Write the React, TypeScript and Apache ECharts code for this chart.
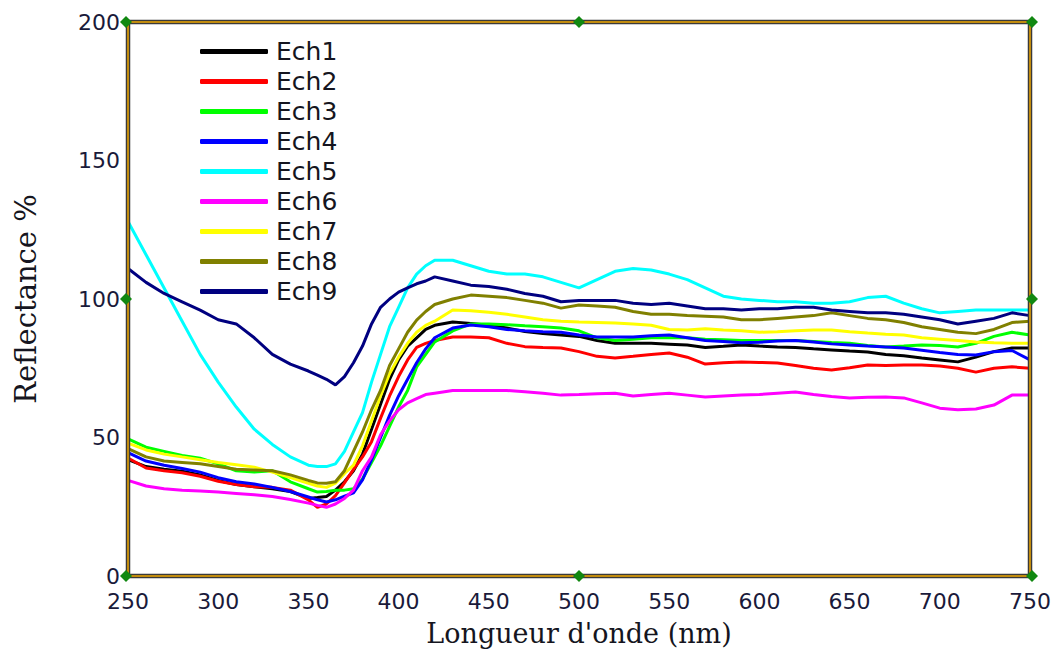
import React, { useEffect, useRef } from "react";
import * as echarts from "echarts";

const wavelengths = [250,260,270,280,290,300,310,320,330,340,350,355,360,365,370,375,380,385,390,395,400,405,410,415,420,430,440,450,460,470,480,490,500,510,520,530,540,550,560,570,580,590,600,610,620,630,640,650,660,670,680,690,700,710,720,730,740,750];

const ech1 = [42,39.5,38.5,37.8,36.5,34.5,33,32.2,31.5,30.5,28,28.3,28.7,31,34,38,44,53,62,71,78,83,86,89,90.5,91.7,91.2,90.5,89.5,88.3,87.5,87,86.5,85,84,84,84,83.7,83.4,82.5,82.9,83.4,83,82.7,82.5,82,81.6,81.2,80.9,80,79.5,78.7,78,77.3,79,81,82.3,82.3];
const ech2 = [42.6,39,38,37.3,36,34.2,33,32.2,32,31,27.5,24.8,26,29,33.6,38.5,43,48.5,57,65,72,78,82.5,84,85,86.3,86.3,86,84,82.8,82.5,82.3,81,79.3,78.7,79.3,80,80.5,79,76.5,77,77.3,77.1,76.9,76,75,74.4,75.2,76.2,76,76.2,76.2,75.8,75,73.6,75,75.5,75];
const ech3 = [49.5,46.5,45,43.5,42.5,40.5,38,37.5,38,34,31.5,30.3,30.5,31,31,31.5,35,41,47,54,61,67,75.5,80,84.5,88.5,91,91,90.7,90.3,90,89.5,88.5,86,85,85.5,86,86,86,85.5,85.3,85,85,85,85,84.7,84.3,84,83.2,82.7,83,83.4,83.2,82.7,84,86.5,88,87];
const ech4 = [44.5,41.5,40,38.8,37.5,35.5,34,33.2,32,30.5,28.5,27.5,26.7,27.5,28.8,30,34.7,42,50,58,65,71,77,82,86,89.5,90.6,90,89,88.5,88.2,88,87,86.3,86.3,86.3,86.7,87,86,85,84.7,84.2,84.4,84.8,85,84.5,83.8,83.4,83,82.7,82.3,81.5,80.7,80,79.8,81,81.4,78];
const ech5 = [128,116,104,92,80,70,61,53,47.5,43,40,39.5,39.5,40.5,45,52,59,70,80,90,97,104,109,112,114,114,112,110,109,109,108,106,104,107,110,111,110.5,109,107,104,101,100,99.5,99,99,98.5,98.5,99,100.5,101,98.5,96.5,95,95.5,96,96,96,96];
const ech6 = [34.5,32.5,31.5,31,30.7,30.3,29.8,29.3,28.7,27.6,26.3,25.5,24.8,26,28,31,38,43,51,56,60,62.5,64,65.5,66,67,67,67,67,66.5,66,65.3,65.5,65.8,66,65,65.5,66,65.3,64.6,65,65.3,65.5,66,66.4,65.5,64.8,64.3,64.5,64.6,64.3,62.5,60.6,60,60.3,61.7,65.3,65.3];
const ech7 = [48,45.5,44,43,42,41,40.2,39.3,37.5,35.5,33.5,32.5,32,33.5,37,40,47,56,65,73,79,84,88,90.5,92,96,95.8,95.2,94.5,93.5,92.5,92,91.7,91.5,91.3,91,90.5,89,88.8,89.3,88.8,88.5,88,88.2,88.5,88.8,88.8,88.2,87.7,87.3,87,86,85.5,85,84.5,84.2,84,84];
const ech8 = [46,43,41.5,41,40.5,39.5,38.5,38.3,38,36.5,34.5,33.6,33.5,34,38,45,52,60,67,76,82,88,92.4,95.5,98,100,101.4,101,100.5,99.5,98.5,96.7,97.8,97.5,97,95.5,94.5,94.5,94,93.8,93.5,92.5,92.5,93,93.5,94,95,94,93,92.5,91.5,90,89,88,87.5,89,91.5,92];
const ech9 = [111,106,102,99,96,92.5,91,86,80,76.5,74,72.5,71,69,72,77,83,91,97,100,102.5,104,105.5,106.5,108,106.5,105,104.5,103.5,102,101,99,99.5,99.5,99.5,98.5,98,98.5,97.5,96.5,96.5,96,96.5,96.5,97,97,96,95.5,95,95,94.5,93.5,92.5,91,92,93,95,94];

const seriesNames = ["Ech1","Ech2","Ech3","Ech4","Ech5","Ech6","Ech7","Ech8","Ech9"];
const seriesValues = [ech1, ech2, ech3, ech4, ech5, ech6, ech7, ech8, ech9];
const seriesColors = ["#000000","#ff0000","#00ff00","#0000ff","#00ffff","#ff00ff","#ffff00","#808000","#000080"];

const xTicks = [250, 750, 50];
const yTicks = [0, 200, 50];

const L = 128, T = 22, R = 1030, B = 576;

function diamond(cx: number, cy: number, s: number) {
  return {
    type: "polygon",
    shape: { points: [[cx - s, cy], [cx, cy - s], [cx + s, cy], [cx, cy + s]] },
    style: { fill: "#118811" },
    z: 101,
  };
}

export default function App() {
  const ref = useRef<HTMLDivElement>(null);
  useEffect(() => {
    if (!ref.current) return;
    const chart = echarts.init(ref.current, undefined, { renderer: "svg" });
    const midX = (L + R) / 2, midY = (T + B) / 2;
    chart.setOption({
      animation: false,
      backgroundColor: "#ffffff",
      grid: { left: L, top: T, right: 1057 - R, bottom: 653 - B, containLabel: false },
      legend: {
        orient: "vertical",
        left: 200,
        top: 39,
        padding: 0,
        itemWidth: 68,
        itemHeight: 5,
        itemGap: 5,
        icon: "roundRect",
        data: seriesNames,
        textStyle: { fontFamily: "DejaVu Sans", fontSize: 25, color: "#151520", padding: [0, 0, 0, 3] },
      },
      xAxis: {
        type: "value",
        min: xTicks[0],
        max: xTicks[1],
        interval: xTicks[2],
        name: "Longueur d'onde (nm)",
        nameLocation: "middle",
        nameGap: 44,
        nameTextStyle: { fontFamily: "DejaVu Serif", fontSize: 27, color: "#151520" },
        axisLine: { show: false },
        axisTick: { show: false },
        splitLine: { show: false },
        axisLabel: { margin: 14, fontFamily: "DejaVu Sans", fontSize: 22, color: "#1a1a3a" },
      },
      yAxis: {
        type: "value",
        min: yTicks[0],
        max: yTicks[1],
        interval: yTicks[2],
        name: "Reflectance %",
        nameLocation: "middle",
        nameGap: 88,
        nameTextStyle: { fontFamily: "DejaVu Serif", fontSize: 29, color: "#151520" },
        axisLine: { show: false },
        axisTick: { show: false },
        splitLine: { show: false },
        axisLabel: { margin: 8, fontFamily: "DejaVu Sans", fontSize: 22, color: "#1a1a3a" },
      },
      series: seriesNames.map((name, k) => ({
        name,
        type: "line",
        showSymbol: false,
        symbol: "none",
        color: seriesColors[k],
        lineStyle: { width: 3, color: seriesColors[k] },
        data: wavelengths.map((w, i) => [w, seriesValues[k][i]]),
      })),
      graphic: [
        { type: "rect", shape: { x: L, y: T, width: R - L, height: B - T }, style: { fill: "none", stroke: "#3a3a3a", lineWidth: 4.5 }, z: 100 },
        { type: "rect", shape: { x: L, y: T, width: R - L, height: B - T }, style: { fill: "none", stroke: "#f0a800", lineWidth: 1.5 }, z: 100 },
        diamond(L - 2, T, 6), diamond(midX, T, 6), diamond(R + 2, T, 6),
        diamond(L - 2, midY, 6), diamond(R + 2, midY, 6),
        diamond(L - 2, B, 6), diamond(midX, B, 6), diamond(R + 2, B, 6),
      ],
    });
    return () => chart.dispose();
  }, []);
  return <div ref={ref} style={{ width: 1057, height: 653, position: "absolute", left: 0, top: 0 }} />;
}
